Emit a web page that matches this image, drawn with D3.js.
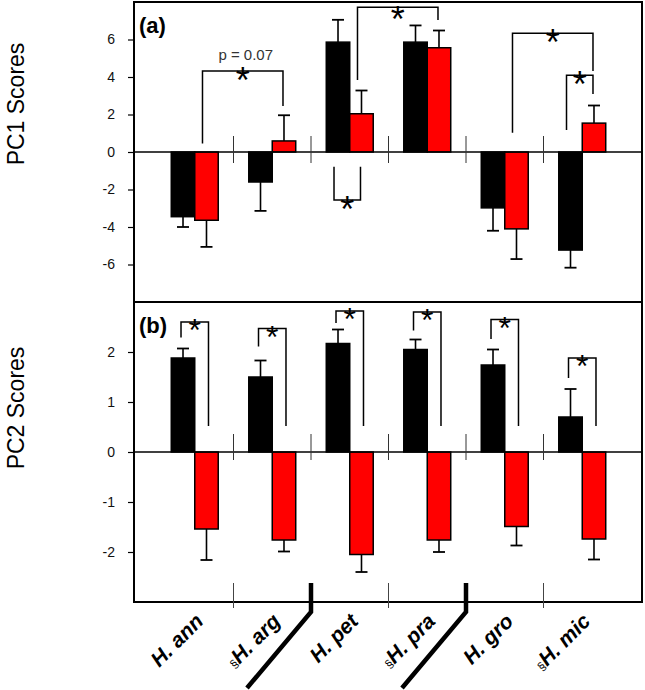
<!DOCTYPE html>
<html>
<head>
<meta charset="utf-8">
<script src="https://cdn.jsdelivr.net/npm/d3@7"></script>
<style>
  html, body { margin: 0; padding: 0; background: #fff; }
  #wrap { position: relative; width: 645px; height: 690px; overflow: hidden; }
  svg { display: block; }
  text { font-family: "Liberation Sans", Arial, sans-serif; }
  .cat { position: absolute; white-space: nowrap; transform-origin: 0 0;
         font-family: "Liberation Sans", Arial, sans-serif; line-height: 1; color: #000; }
  .cat .main { font-size: 21px; font-weight: bold; font-style: italic; }
  .cat .mark { font-size: 12px; }
</style>
</head>
<body>
<div id="wrap"><svg id="chart" width="645" height="690"></svg></div>
<script>
// ---------------- data ----------------
const categories   = ["H. ann", "H. arg", "H. pet", "H. pra", "H. gro", "H. mic"];
const sectionMark  = [false, true, false, true, false, true];
const series       = ["black", "red"];

const pc1Black    = [-3.45, -1.60, 5.86, 5.86, -2.98, -5.23];
const pc1BlackErr = [ 0.55,  1.54, 1.19, 0.89,  1.22,  0.94];
const pc1Red      = [-3.64,  0.59, 2.04, 5.56, -4.10,  1.54];
const pc1RedErr   = [ 1.42,  1.37, 1.24, 0.92,  1.61,  0.94];

const pc2Black    = [ 1.88,  1.50,  2.17,  2.05,  1.74,  0.70];
const pc2BlackErr = [ 0.19,  0.33,  0.28,  0.20,  0.31,  0.56];
const pc2Red      = [-1.54, -1.76, -2.05, -1.76, -1.49, -1.74];
const pc2RedErr   = [ 0.62,  0.23,  0.35,  0.24,  0.38,  0.41];

const pc1Ticks = [-6, -4, -2, 0, 2, 4, 6];
const pc2Ticks = [-2, -1, 0, 1, 2];
const pc1Domain = [-8, 8];
const pc2Domain = [-3, 3];

// significance brackets: legs start at y0 (left) / y1 (right), joined at "top" (score units)
const pc1Brackets = [
  { from: [0, "red"],   to: [1, "red"], y0: 0.46,  y1: 2.45,  top: 4.32, note: "p = 0.07" },
  { from: [2, "black"], to: [2, "red"], y0: -0.78, y1: -0.78, top: -2.56 },
  { from: [2, "red"],   to: [3, "red"], y0: 3.84,  y1: 7.04,  top: 7.72 },
  { from: [4, "red"],   to: [5, "red"], y0: 1.03,  y1: 4.32,  top: 6.33 },
  { from: [5, "black"], to: [5, "red"], y0: 1.17,  y1: 3.09,  top: 4.10 }
];
const pc2Brackets = [
  { from: [0, "black"], to: [0, "red"], y0: 2.29, y1: 0.52, top: 2.60 },
  { from: [1, "black"], to: [1, "red"], y0: 2.11, y1: 0.52, top: 2.47 },
  { from: [2, "black"], to: [2, "red"], y0: 2.58, y1: 0.52, top: 2.82 },
  { from: [3, "black"], to: [3, "red"], y0: 2.43, y1: 0.52, top: 2.80 },
  { from: [4, "black"], to: [4, "red"], y0: 2.26, y1: 0.52, top: 2.65 },
  { from: [5, "black"], to: [5, "red"], y0: 1.48, y1: 0.52, top: 1.88 }
];
// boundaries between groups drawn as heavy "break" lines (after index)
const heavyBreaks = [1, 3];

// ---------------- layout ----------------
const svg = d3.select("#chart");
const frame = { left: 134, right: 642, top: 2, mid: 302, bottom: 602 };
const colors = { black: "#000000", red: "#ff0000" };

const x = d3.scaleBand().domain(categories).range([156, 621])
  .paddingInner(0.394).paddingOuter(0.197);
const xs = d3.scaleBand().domain(series).range([0, x.bandwidth()]);
const step = x.step();

const yA = d3.scaleLinear().domain(pc1Domain).range([frame.mid, frame.top]);
const yB = d3.scaleLinear().domain(pc2Domain).range([frame.bottom, frame.mid]);

svg.append("rect").attr("width", 645).attr("height", 690).attr("fill", "#fff");

function barCenter(i, s) { return x(categories[i]) + xs(s) + xs.bandwidth() / 2; }
function sepX(k) { return x(categories[k]) - x.paddingInner() * step / 2; }

function drawPanel(y, blackVals, blackErr, redVals, redErr, ticks, brackets, label, title, titleY, sepUp, sepDown, starSize, isA) {
  const g = svg.append("g");
  const rows = categories.map((c, i) => ({ c, i, black: blackVals[i], red: redVals[i], blackErr: blackErr[i], redErr: redErr[i] }));

  // error bars (one-sided, away from zero)
  series.forEach(s => {
    rows.forEach(r => {
      const v = r[s], e = r[s + "Err"];
      const cx = barCenter(r.i, s);
      const end = v >= 0 ? v + e : v - e;
      g.append("line").attr("x1", cx).attr("x2", cx).attr("y1", y(v)).attr("y2", y(end))
        .attr("stroke", "#000").attr("stroke-width", 1.6);
      g.append("line").attr("x1", cx - 6).attr("x2", cx + 6).attr("y1", y(end)).attr("y2", y(end))
        .attr("stroke", "#000").attr("stroke-width", 1.8);
    });
  });

  // bars
  series.forEach(s => {
    g.selectAll(null).data(rows).join("rect")
      .attr("x", d => x(d.c) + xs(s))
      .attr("width", xs.bandwidth())
      .attr("y", d => y(Math.max(0, d[s])))
      .attr("height", d => Math.abs(y(d[s]) - y(0)))
      .attr("fill", colors[s])
      .attr("stroke", "#000").attr("stroke-width", 1.5);
  });

  // zero line
  g.append("line").attr("x1", frame.left).attr("x2", frame.right).attr("y1", y(0)).attr("y2", y(0))
    .attr("stroke", "#000").attr("stroke-width", 1.5);

  // group separators on zero line
  for (let k = 1; k < categories.length; k++) {
    const sx = sepX(k);
    g.append("line").attr("x1", sx).attr("x2", sx).attr("y1", y(0) - sepUp).attr("y2", y(0) + sepDown)
      .attr("stroke", "#333").attr("stroke-width", 1);
  }

  // axis
  const axis = d3.axisLeft(y).tickValues(ticks).tickSize(6).tickPadding(13).tickFormat(d3.format("d"));
  const ax = g.append("g").attr("transform", `translate(${frame.left},0)`).call(axis);
  ax.select(".domain").remove();
  ax.selectAll(".tick line").attr("stroke", "#000").attr("stroke-width", 1.2);
  ax.selectAll(".tick text").attr("font-size", 14).attr("fill", "#111")
    .attr("font-family", "'Liberation Sans', Arial, sans-serif")
    .text(d => d < 0 ? "-" + Math.abs(d) : d);

  // brackets
  brackets.forEach(b => {
    const xl = barCenter(b.from[0], b.from[1]) + (isA ? -4 : -2);
    const xr = barCenter(b.to[0], b.to[1]) + (isA ? -1 : 2);
    const path = d3.path();
    path.moveTo(xl, y(b.y0));
    path.lineTo(xl, y(b.top));
    path.lineTo(xr, y(b.top));
    path.lineTo(xr, y(b.y1));
    g.append("path").attr("d", path.toString()).attr("fill", "none")
      .attr("stroke", "#000").attr("stroke-width", 1.5);
    const mx = (xl + xr) / 2;
    const sy = Math.max(y(b.top), 10);
    g.append("text").attr("x", mx).attr("y", sy + starSize * 0.6)
      .attr("text-anchor", "middle").attr("font-size", starSize).attr("fill", "#000")
      .text("*");
    if (b.note) {
      g.append("text").attr("x", mx + 3).attr("y", y(b.top) - 11)
        .attr("text-anchor", "middle").attr("font-size", 15).attr("fill", "#333")
        .text(b.note);
    }
  });

  // panel label
  g.append("text").attr("x", 139).attr("y", y.range()[1] + 31)
    .attr("font-size", 22).attr("font-weight", "bold").attr("fill", "#000").text(label);

  // y title
  g.append("text").attr("transform", `translate(24,${titleY}) rotate(-90)`)
    .attr("text-anchor", "middle").attr("font-size", 23).attr("fill", "#000").text(title);
}

drawPanel(yA, pc1Black, pc1BlackErr, pc1Red, pc1RedErr, pc1Ticks, pc1Brackets, "(a)", "PC1 Scores", 104, 16, 11, 36, true);
drawPanel(yB, pc2Black, pc2BlackErr, pc2Red, pc2RedErr, pc2Ticks, pc2Brackets, "(b)", "PC2 Scores", 408, 18, 8, 32, false);

// frame
svg.append("rect").attr("x", frame.left).attr("y", frame.top)
  .attr("width", frame.right - frame.left).attr("height", frame.bottom - frame.top)
  .attr("fill", "none").attr("stroke", "#000").attr("stroke-width", 2);
svg.append("line").attr("x1", frame.left).attr("x2", frame.right).attr("y1", frame.mid).attr("y2", frame.mid)
  .attr("stroke", "#000").attr("stroke-width", 2);

// bottom separators and break lines
for (let k = 1; k < categories.length; k++) {
  const sx = sepX(k);
  if (heavyBreaks.includes(k - 1)) {
    svg.append("path")
      .attr("d", `M${sx},${frame.bottom - 19}L${sx},${frame.bottom + 10}L${sx - 64},${frame.bottom + 86}`)
      .attr("fill", "none").attr("stroke", "#000").attr("stroke-width", 4.5).attr("stroke-linejoin", "miter");
  } else {
    svg.append("line").attr("x1", sx).attr("x2", sx).attr("y1", frame.bottom - 19).attr("y2", frame.bottom + 6)
      .attr("stroke", "#444").attr("stroke-width", 1);
  }
}

// category labels: HTML overlays rotated -45deg about their right/baseline end
const wrap = d3.select("#wrap");
categories.forEach((c, i) => {
  const cx = x(c) + x.bandwidth() / 2;
  const ex = cx + 9, ey = frame.bottom + 20;
  const d = wrap.append("div").attr("class", "cat")
    .style("left", ex + "px").style("top", ey + "px")
    .style("transform", "rotate(-45deg) translate(-100%, -82%)");
  if (sectionMark[i]) d.append("span").attr("class", "mark").text("§");
  d.append("span").attr("class", "main").text(c);
});
</script>
</body>
</html>
